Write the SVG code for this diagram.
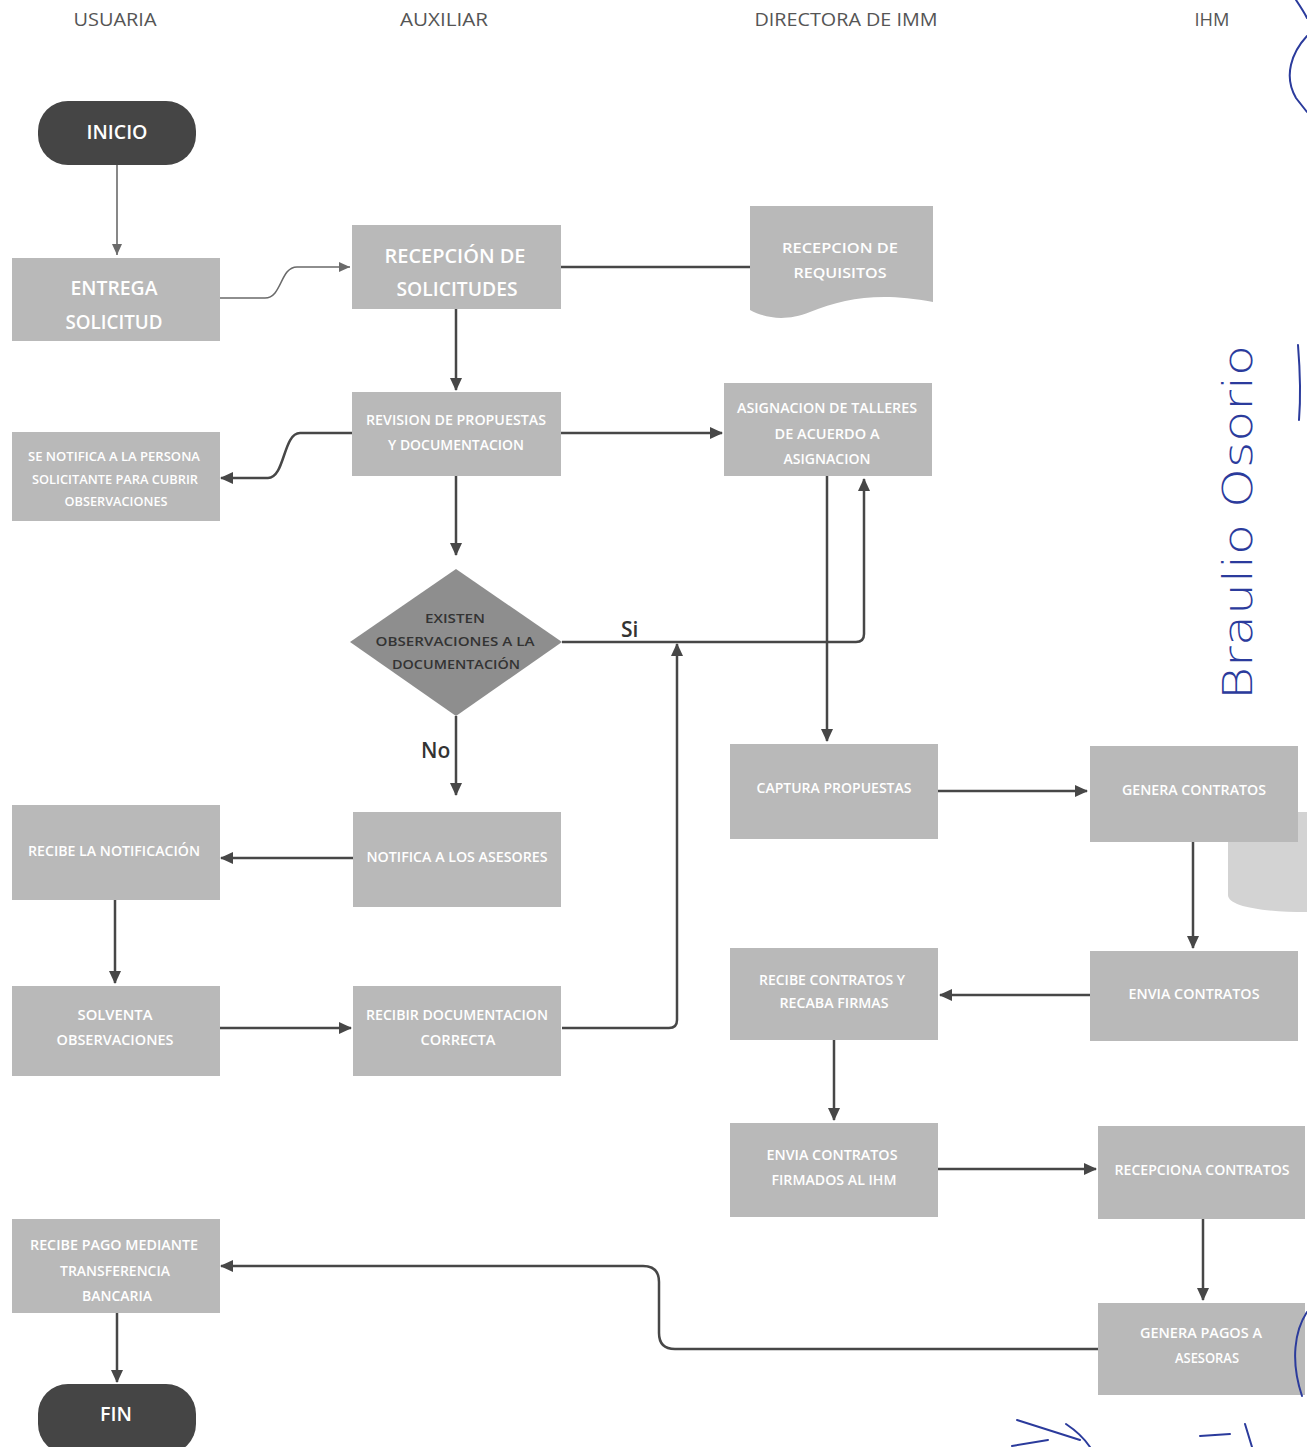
<svg xmlns="http://www.w3.org/2000/svg" width="1307" height="1447" viewBox="0 0 1307 1447">
<style>
.hdr{font-family:"Open Sans","Liberation Sans",sans-serif;font-size:18px;fill:#555;text-anchor:middle}
.box{fill:#b9b9b9}
.term{fill:#454545}
.bt{font-family:"Open Sans","Liberation Sans",sans-serif;fill:#ffffff;text-anchor:middle;font-weight:600}
.tt{font-family:"Open Sans","Liberation Sans",sans-serif;fill:#ffffff;text-anchor:middle;font-size:19px;font-weight:600}
.dt{font-family:"Open Sans","Liberation Sans",sans-serif;fill:#333;text-anchor:middle;font-size:13px;font-weight:600}
.lbl{font-family:"Open Sans","Liberation Sans",sans-serif;fill:#333;font-size:21px;font-weight:600}
.c{fill:none;stroke:#474747;stroke-width:2.5}
.cl{fill:none;stroke:#6a6a6a;stroke-width:1.6}
.hw{fill:none;stroke:#2b3b9c;stroke-width:2;stroke-linecap:round}
</style>
<defs>
<marker id="ah" markerUnits="userSpaceOnUse" markerWidth="14" markerHeight="12" refX="12" refY="6" orient="auto">
<path d="M0,0 L13,6 L0,12 Z" fill="#474747"/>
</marker>
<marker id="ahl" markerUnits="userSpaceOnUse" markerWidth="12" markerHeight="10" refX="11" refY="5" orient="auto">
<path d="M0,0 L11,5 L0,10 Z" fill="#6a6a6a"/>
</marker>
</defs>
<rect width="1307" height="1447" fill="#ffffff"/>

<g id="headers">
<text class="hdr" x="115" y="26" textLength="83" lengthAdjust="spacingAndGlyphs">USUARIA</text>
<text class="hdr" x="444" y="26" textLength="88" lengthAdjust="spacingAndGlyphs">AUXILIAR</text>
<text class="hdr" x="846" y="26" textLength="183" lengthAdjust="spacingAndGlyphs">DIRECTORA DE IMM</text>
<text class="hdr" x="1212" y="26" textLength="35" lengthAdjust="spacingAndGlyphs">IHM</text>
</g>

<g id="connectors">
<path class="cl" d="M117,165 L117,255" marker-end="url(#ahl)"/>
<path class="cl" d="M220,298 L265,298 C282,298 280,267 297,267 L350,267" marker-end="url(#ahl)"/>
<path class="c" d="M561,267 L750,267"/>
<path class="c" d="M456,309 L456,390" marker-end="url(#ah)"/>
<path class="c" d="M352,433 L300,433 C283,433 285,478 268,478 L221,478" marker-end="url(#ah)"/>
<path class="c" d="M561,433 L722,433" marker-end="url(#ah)"/>
<path class="c" d="M456,476 L456,555" marker-end="url(#ah)"/>
<path class="c" d="M562,642 L856,642 Q864,642 864,634 L864,479" marker-end="url(#ah)"/>
<path class="c" d="M827,476 L827,741" marker-end="url(#ah)"/>
<path class="c" d="M456,716 L456,795" marker-end="url(#ah)"/>
<path class="c" d="M562,1028 L669,1028 Q677,1028 677,1020 L677,644" marker-end="url(#ah)"/>
<path class="c" d="M938,791 L1087,791" marker-end="url(#ah)"/>
<path class="c" d="M353,858 L221,858" marker-end="url(#ah)"/>
<path class="c" d="M115,900 L115,983" marker-end="url(#ah)"/>
<path class="c" d="M220,1028 L351,1028" marker-end="url(#ah)"/>
<path class="c" d="M1193,842 L1193,948" marker-end="url(#ah)"/>
<path class="c" d="M1090,995 L940,995" marker-end="url(#ah)"/>
<path class="c" d="M834,1040 L834,1120" marker-end="url(#ah)"/>
<path class="c" d="M938,1169 L1096,1169" marker-end="url(#ah)"/>
<path class="c" d="M1203,1219 L1203,1300" marker-end="url(#ah)"/>
<path class="c" d="M1098,1349 L675,1349 Q659,1349 659,1333 L659,1282 Q659,1266 643,1266 L221,1266" marker-end="url(#ah)"/>
<path class="c" d="M117,1313 L117,1382" marker-end="url(#ah)"/>
<text class="lbl" x="621" y="637">Si</text>
<text class="lbl" x="421" y="758">No</text>
</g>

<g id="inicio">
<rect class="term" x="38" y="101" width="158" height="64" rx="30"/>
<text class="tt" x="117" y="139" textLength="61" lengthAdjust="spacingAndGlyphs">INICIO</text>
</g>

<g id="entrega">
<rect class="box" x="12" y="258" width="208" height="83"/>
<text class="bt" x="114" y="295" font-size="19" textLength="87" lengthAdjust="spacingAndGlyphs">ENTREGA</text>
<text class="bt" x="114" y="329" font-size="19" textLength="97" lengthAdjust="spacingAndGlyphs">SOLICITUD</text>
</g>

<g id="recepcion">
<rect class="box" x="352" y="225" width="209" height="84"/>
<text class="bt" x="455" y="263" font-size="19" textLength="141" lengthAdjust="spacingAndGlyphs">RECEPCIÓN  DE</text>
<text class="bt" x="457" y="296" font-size="19" textLength="121" lengthAdjust="spacingAndGlyphs">SOLICITUDES</text>
</g>

<g id="requisitos">
<path class="box" d="M750,206 L933,206 L933,302 C880,292 845,298 810,312 C785,322 765,318 750,310 Z"/>
<text class="bt" x="840" y="253" font-size="15" textLength="116" lengthAdjust="spacingAndGlyphs">RECEPCION DE</text>
<text class="bt" x="840" y="278" font-size="15" textLength="93" lengthAdjust="spacingAndGlyphs">REQUISITOS</text>
</g>

<g id="revision">
<rect class="box" x="352" y="392" width="209" height="84"/>
<text class="bt" x="456" y="425" font-size="14" textLength="180" lengthAdjust="spacingAndGlyphs">REVISION DE PROPUESTAS</text>
<text class="bt" x="456" y="450" font-size="14" textLength="136" lengthAdjust="spacingAndGlyphs">Y DOCUMENTACION</text>
</g>

<g id="notifica_persona">
<rect class="box" x="12" y="432" width="208" height="89"/>
<text class="bt" x="114" y="461" font-size="13" textLength="172" lengthAdjust="spacingAndGlyphs">SE NOTIFICA A LA PERSONA</text>
<text class="bt" x="115" y="484" font-size="13" textLength="166" lengthAdjust="spacingAndGlyphs">SOLICITANTE PARA CUBRIR</text>
<text class="bt" x="116" y="506" font-size="13" textLength="103" lengthAdjust="spacingAndGlyphs">OBSERVACIONES</text>
</g>

<g id="asignacion">
<rect class="box" x="724" y="383" width="208" height="93"/>
<text class="bt" x="827" y="413" font-size="14" textLength="180" lengthAdjust="spacingAndGlyphs">ASIGNACION DE TALLERES</text>
<text class="bt" x="827" y="439" font-size="14" textLength="105" lengthAdjust="spacingAndGlyphs">DE ACUERDO A</text>
<text class="bt" x="827" y="464" font-size="14" textLength="87" lengthAdjust="spacingAndGlyphs">ASIGNACION</text>
</g>

<g id="decision">
<path d="M456,569 L562,642 L456,716 L350,642 Z" fill="#8e8e8e"/>
<text class="dt" x="455" y="623" textLength="60" lengthAdjust="spacingAndGlyphs">EXISTEN</text>
<text class="dt" x="455" y="646" textLength="159" lengthAdjust="spacingAndGlyphs">OBSERVACIONES A LA</text>
<text class="dt" x="456" y="669" textLength="128" lengthAdjust="spacingAndGlyphs">DOCUMENTACIÓN</text>
</g>

<g id="captura">
<rect class="box" x="730" y="744" width="208" height="95"/>
<text class="bt" x="834" y="793" font-size="14" textLength="155" lengthAdjust="spacingAndGlyphs">CAPTURA PROPUESTAS</text>
</g>

<g id="cilindro">
<path d="M1228,828 L1228,895 C1228,906 1260,912 1307,912 L1307,812 C1260,812 1228,818 1228,828 Z" fill="#d3d3d3"/>
</g>

<g id="genera_contratos">
<rect class="box" x="1090" y="746" width="208" height="96"/>
<text class="bt" x="1194" y="795" font-size="14" textLength="144" lengthAdjust="spacingAndGlyphs">GENERA CONTRATOS</text>
</g>

<g id="notifica_asesores">
<rect class="box" x="353" y="812" width="208" height="95"/>
<text class="bt" x="457" y="862" font-size="14" textLength="181" lengthAdjust="spacingAndGlyphs">NOTIFICA A LOS ASESORES</text>
</g>

<g id="recibe_notificacion">
<rect class="box" x="12" y="805" width="208" height="95"/>
<text class="bt" x="114" y="856" font-size="14" textLength="172" lengthAdjust="spacingAndGlyphs">RECIBE LA NOTIFICACIÓN</text>
</g>

<g id="solventa">
<rect class="box" x="12" y="986" width="208" height="90"/>
<text class="bt" x="115" y="1020" font-size="14" textLength="75" lengthAdjust="spacingAndGlyphs">SOLVENTA</text>
<text class="bt" x="115" y="1045" font-size="14" textLength="117" lengthAdjust="spacingAndGlyphs">OBSERVACIONES</text>
</g>

<g id="recibir_doc">
<rect class="box" x="353" y="986" width="208" height="90"/>
<text class="bt" x="457" y="1020" font-size="14" textLength="182" lengthAdjust="spacingAndGlyphs">RECIBIR DOCUMENTACION</text>
<text class="bt" x="458" y="1045" font-size="14" textLength="75" lengthAdjust="spacingAndGlyphs">CORRECTA</text>
</g>

<g id="envia_contratos">
<rect class="box" x="1090" y="951" width="208" height="90"/>
<text class="bt" x="1194" y="999" font-size="14" textLength="131" lengthAdjust="spacingAndGlyphs">ENVIA CONTRATOS</text>
</g>

<g id="recibe_contratos">
<rect class="box" x="730" y="948" width="208" height="92"/>
<text class="bt" x="832" y="985" font-size="14" textLength="146" lengthAdjust="spacingAndGlyphs">RECIBE CONTRATOS Y</text>
<text class="bt" x="834" y="1008" font-size="14" textLength="109" lengthAdjust="spacingAndGlyphs">RECABA FIRMAS</text>
</g>

<g id="envia_firmados">
<rect class="box" x="730" y="1123" width="208" height="94"/>
<text class="bt" x="832" y="1160" font-size="14" textLength="131" lengthAdjust="spacingAndGlyphs">ENVIA CONTRATOS</text>
<text class="bt" x="834" y="1185" font-size="14" textLength="125" lengthAdjust="spacingAndGlyphs">FIRMADOS AL IHM</text>
</g>

<g id="recepciona">
<rect class="box" x="1098" y="1126" width="207" height="93"/>
<text class="bt" x="1202" y="1175" font-size="14" textLength="175" lengthAdjust="spacingAndGlyphs">RECEPCIONA CONTRATOS</text>
</g>

<g id="genera_pagos">
<rect class="box" x="1098" y="1303" width="207" height="92"/>
<text class="bt" x="1201" y="1338" font-size="14" textLength="122" lengthAdjust="spacingAndGlyphs">GENERA PAGOS A</text>
<text class="bt" x="1207" y="1363" font-size="14" textLength="64" lengthAdjust="spacingAndGlyphs">ASESORAS</text>
</g>

<g id="recibe_pago">
<rect class="box" x="12" y="1219" width="208" height="94"/>
<text class="bt" x="114" y="1250" font-size="14" textLength="168" lengthAdjust="spacingAndGlyphs">RECIBE PAGO MEDIANTE</text>
<text class="bt" x="115" y="1276" font-size="14" textLength="110" lengthAdjust="spacingAndGlyphs">TRANSFERENCIA</text>
<text class="bt" x="117" y="1301" font-size="14" textLength="70" lengthAdjust="spacingAndGlyphs">BANCARIA</text>
</g>

<g id="fin">
<rect class="term" x="38" y="1384" width="158" height="70" rx="30"/>
<text class="tt" x="116" y="1421" textLength="32" lengthAdjust="spacingAndGlyphs">FIN</text>
</g>

<g id="handwriting">
<text transform="translate(1252,700) rotate(-90)" x="0" y="0" font-family="'DejaVu Sans','Noto Sans',sans-serif" font-size="40" font-weight="200" fill="#2b3b9c" textLength="355" lengthAdjust="spacingAndGlyphs">Braulio Osorio</text>
<path class="hw" d="M1307,36 C1292,52 1283,76 1296,98 L1307,112"/>
<path class="hw" d="M1296,0 C1300,6 1304,12 1307,18"/>
<path class="hw" d="M1298,345 C1300,370 1301,395 1299,420"/>
<path class="hw" d="M1017,1420 L1080,1440"/>
<path class="hw" d="M1012,1446 L1048,1440"/>
<path class="hw" d="M1066,1424 C1075,1430 1084,1438 1090,1447"/>
<path class="hw" d="M1200,1436 L1230,1434"/>
<path class="hw" d="M1245,1424 L1252,1447"/>
<path class="hw" d="M1307,1312 C1295,1330 1290,1360 1302,1396"/>
</g>
</svg>
